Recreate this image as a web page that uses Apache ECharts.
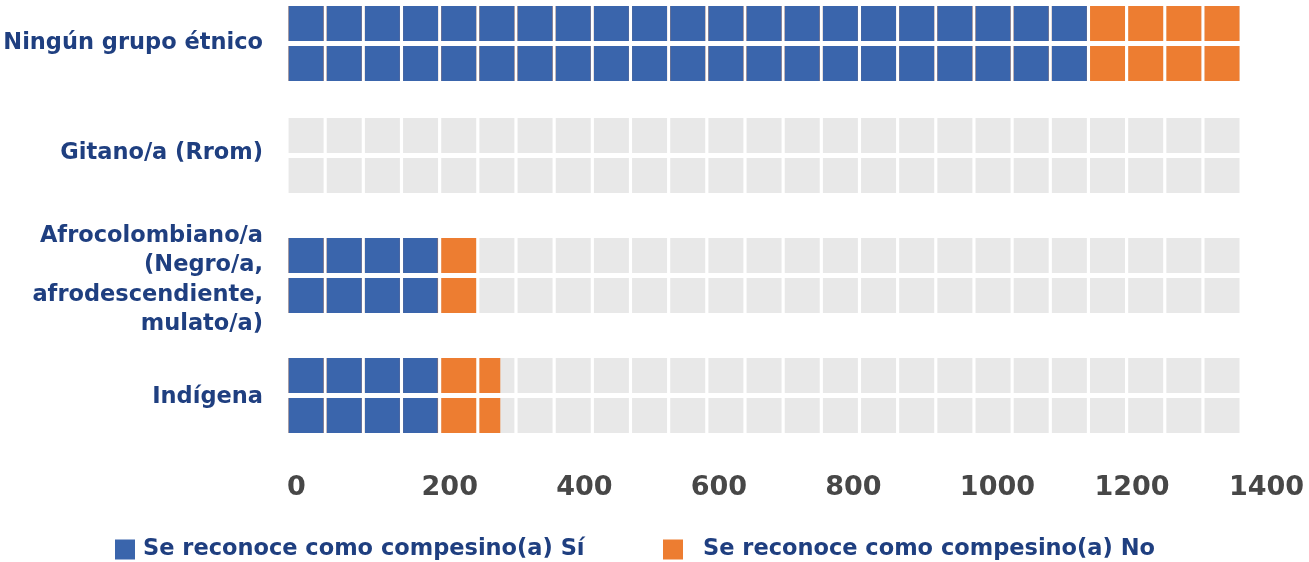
<!DOCTYPE html>
<html>
<head>
<meta charset="utf-8">
<script src="https://cdn.jsdelivr.net/npm/echarts@6/dist/echarts.min.js"></script>
<style>
html,body{margin:0;padding:0;background:#fff;}
#chart{width:1309px;height:562px;}
</style>
</head>
<body>
<div id="chart"></div>
<script>
// ---- data ----
var categories = [
  'Ningún grupo étnico',
  'Gitano/a (Rrom)',
  'Afrocolombiano/a\n(Negro/a,\nafrodescendiente,\nmulato/a)',
  'Indígena'
];
var seriesNames = ['Se reconoce como compesino(a) Sí', 'Se reconoce como compesino(a) No'];
var siValues = [1193, 0, 224, 224];
var noValues = [225, 0, 58, 93];
var backgroundMax = 1418;
var xTicks = [0, 200, 400, 600, 800, 1000, 1200, 1400];

// ---- chart ----
var FONT = "'DejaVu Sans', sans-serif";
var BLUE = '#3a65ac', ORANGE = '#ed7d31', GRAY = '#e8e8e8', NAVY = '#1f3f80';
var blockPath = 'path://M0,0h35v35h-35z M0,40h35v35h-35z';
// small vertical nudges (px) of rows and of their labels relative to even spacing
var rowShift = [8, 0, 0, 0];
var labelShift = [7.5, -2, 4.5, 1.5];

var totals = siValues.map(function (v, i) { return v + noValues[i]; });
var bgValues = categories.map(function () { return backgroundMax; });

function withShift(arr) {
  return arr.map(function (v, i) {
    return rowShift[i] ? { value: v, symbolOffset: [0, rowShift[i]] } : v;
  });
}

function pictorial(name, data, color, z) {
  return {
    name: name,
    type: 'pictorialBar',
    data: withShift(data),
    symbol: blockPath,
    symbolSize: [35, 75],
    symbolRepeat: true,
    symbolClip: true,
    symbolMargin: '1.6!',
    symbolBoundingData: backgroundMax,
    symbolPosition: 'start',
    itemStyle: { color: color },
    z: z,
    silent: true
  };
}

var rich = {};
labelShift.forEach(function (s, i) {
  rich['l' + i] = {
    fontFamily: FONT, fontWeight: 'bold', fontSize: 22.5, lineHeight: 29.5, color: NAVY,
    padding: [s > 0 ? 2 * s : 0, 0, s < 0 ? -2 * s : 0, 0]
  };
});

var legendText = { fontFamily: FONT, fontWeight: 'bold', fontSize: 22.5, color: NAVY };

var chart = echarts.init(document.getElementById('chart'), null, { renderer: 'canvas' });
chart.setOption({
  animation: false,
  backgroundColor: '#ffffff',
  grid: { left: 287, top: -24.5, width: 942, height: 480, containLabel: false, outerBoundsMode: 'none' },
  xAxis: {
    type: 'value',
    min: xTicks[0],
    max: xTicks[xTicks.length - 1],
    interval: xTicks[1] - xTicks[0],
    axisLine: { show: false },
    axisTick: { show: false },
    splitLine: { show: false },
    axisLabel: {
      align: 'left',
      margin: 19,
      fontFamily: FONT,
      fontWeight: 'bold',
      fontSize: 27,
      color: '#474747',
      formatter: function (v) { return String(v); }
    }
  },
  yAxis: {
    type: 'category',
    inverse: true,
    data: categories,
    axisLine: { show: false },
    axisTick: { show: false },
    splitLine: { show: false },
    axisLabel: {
      margin: 24,
      fontFamily: FONT,
      fontWeight: 'bold',
      fontSize: 22.5,
      lineHeight: 29.5,
      color: NAVY,
      align: 'right',
      formatter: function (v, i) { return '{l' + i + '|' + v + '}'; },
      rich: rich
    }
  },
  legend: [
    {
      data: [seriesNames[0]],
      left: 115, top: 538, padding: 0,
      icon: 'rect', itemWidth: 20, itemHeight: 20,
      selectedMode: false,
      textStyle: Object.assign({ padding: [0, 0, 0, 3] }, legendText)
    },
    {
      data: [seriesNames[1]],
      left: 663, top: 538, padding: 0,
      icon: 'rect', itemWidth: 20, itemHeight: 20,
      selectedMode: false,
      textStyle: Object.assign({ padding: [0, 0, 0, 15] }, legendText)
    }
  ],
  series: [
    pictorial('fondo', bgValues, GRAY, 1),
    pictorial(seriesNames[1], totals, ORANGE, 2),
    pictorial(seriesNames[0], siValues, BLUE, 3)
  ]
});
</script>
</body>
</html>
